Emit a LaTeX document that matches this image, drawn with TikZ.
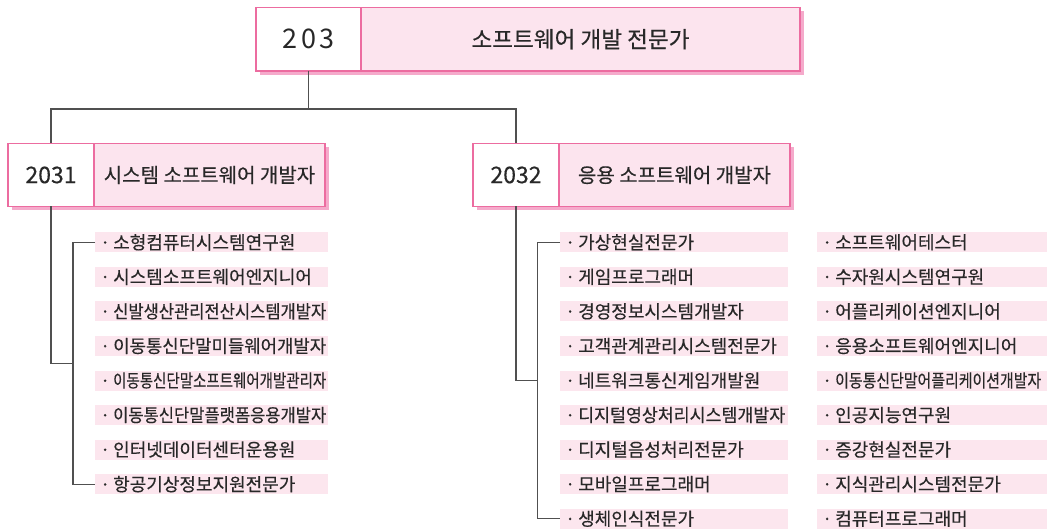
\documentclass[tikz,border=0pt]{standalone}
\usepackage{fontspec}
\usepackage{graphicx}
\setmainfont[FakeBold=0.3]{Noto Sans CJK KR}
\newfontfamily\numfont[LetterSpace=12]{Noto Sans CJK KR}
\usetikzlibrary{positioning,shadows}

\definecolor{pinkline}{RGB}{236,108,160}
\definecolor{pinkfill}{RGB}{252,228,238}
\definecolor{pinkshadow}{RGB}{245,170,203}
\definecolor{itemfill}{RGB}{252,230,238}
\definecolor{linkgray}{RGB}{80,80,80}
\definecolor{ink}{RGB}{40,40,40}

\newsavebox\namebox
\newcommand\fitname[2]{\sbox\namebox{#2}\ifdim\wd\namebox>#1\resizebox{#1}{\height}{\usebox\namebox}\else\usebox\namebox\fi}
\newcommand\dotname[3]{\makebox[#1][l]{\makebox[14pt][l]{\makebox[12pt][c]{·}}\fitname{#2}{#3}}}

\begin{document}
\begin{tikzpicture}[x=1pt,y=-1pt,text=ink,
  pshadow/.style={drop shadow={shadow xshift=4pt,shadow yshift=-4pt,fill=pinkshadow,opacity=1}},
  numbox/.style={draw=pinkline,line width=1.2pt,fill=white,inner sep=0pt,outer sep=0pt,pshadow},
  titlebox/.style={draw=pinkline,line width=1.2pt,fill=pinkfill,inner sep=0pt,outer sep=0pt,pshadow},
  item/.style={anchor=west,fill=itemfill,minimum height=20pt,inner xsep=4pt,inner ysep=0pt,
    font=\fontsize{18}{20}\selectfont},
  link/.style={draw=linkgray,line width=1.2pt}]
\useasboundingbox (0,0) rectangle (1049,529);

% header boxes
\node[numbox,minimum width=105pt,minimum height=63.5pt,anchor=north west] (n203) at (256,7.5)
  {\numfont\fontsize{27}{30}\selectfont 203};
\node[titlebox,minimum width=439pt,minimum height=63.5pt,right=0pt of n203] (t203)
  {\fontsize{22.6}{26}\selectfont 소프트웨어 개발 전문가};

\node[numbox,minimum width=86pt,minimum height=63pt,anchor=north west] (n2031) at (8,143.5)
  {\fontsize{23}{26}\selectfont 2031};
\node[titlebox,minimum width=231pt,minimum height=63pt,right=0pt of n2031] (t2031)
  {\fontsize{20}{24}\selectfont 시스템 소프트웨어 개발자};

\node[numbox,minimum width=86pt,minimum height=63pt,anchor=north west] (n2032) at (473,143.5)
  {\fontsize{23}{26}\selectfont 2032};
\node[titlebox,minimum width=231pt,minimum height=63pt,right=0pt of n2032] (t2032)
  {\fontsize{20}{24}\selectfont 응용 소프트웨어 개발자};

% job lists
\foreach \name [count=\i] in {소형컴퓨터시스템연구원,시스템소프트웨어엔지니어,
  신발생산관리전산시스템개발자,이동통신단말미들웨어개발자,이동통신단말소프트웨어개발관리자,
  이동통신단말플랫폼응용개발자,인터넷데이터센터운용원,항공기상정보지원전문가}
  \node[item] (a\i) at (95,{242.3+34.55*(\i-1)}) {\dotname{225pt}{213pt}{\name}};

\foreach \name [count=\i] in {가상현실전문가,게임프로그래머,경영정보시스템개발자,
  고객관계관리시스템전문가,네트워크통신게임개발원,디지털영상처리시스템개발자,
  디지털음성처리전문가,모바일프로그래머,생체인식전문가}
  \node[item] (b\i) at (560,{242.3+34.55*(\i-1)}) {\dotname{220pt}{207pt}{\name}};

\foreach \name [count=\i] in {소프트웨어테스터,수자원시스템연구원,어플리케이션엔지니어,
  응용소프트웨어엔지니어,이동통신단말어플리케이션개발자,인공지능연구원,증강현실전문가,
  지식관리시스템전문가,컴퓨터프로그래머}
  \node[item] (c\i) at (817,{242.3+34.55*(\i-1)}) {\dotname{222pt}{206pt}{\name}};

% connectors
\coordinate (fork) at (308.5,109);
\coordinate (lbr) at (73,363.3);
\coordinate (mbr) at (537.5,380.5);
\draw[link] (n203.south) -- (fork) -| (n2031.north);
\draw[link] (fork) -| (n2032.north);
\draw[link] (n2031.south) |- (lbr);
\draw[link] (a1.west) -| (lbr) |- (a8.west);
\draw[link] (n2032.south) |- (mbr);
\draw[link] (b1.west) -| (mbr) |- (b9.west);
\end{tikzpicture}
\end{document}
